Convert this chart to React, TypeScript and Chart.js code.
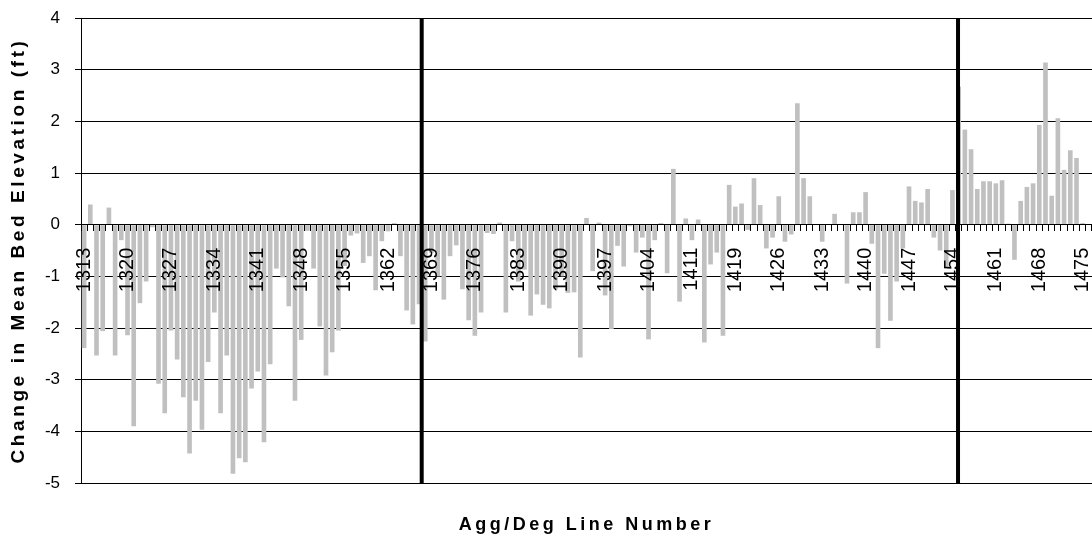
import React, { useEffect, useRef } from 'react';
import { Chart, registerables } from 'chart.js';

Chart.register(...registerables);

const FONT = "'Liberation Sans', Arial, Helvetica, sans-serif";

// Category axis: Agg/Deg line numbers (one number between 1411 and 1419 is absent)
const lineNumbers: string[] = [
  '1313', '1314', '1315', '1316', '1317', '1318', '1319', '1320', '1321', '1322',
  '1323', '1324', '1325', '1326', '1327', '1328', '1329', '1330', '1331', '1332',
  '1333', '1334', '1335', '1336', '1337', '1338', '1339', '1340', '1341', '1342',
  '1343', '1344', '1345', '1346', '1347', '1348', '1349', '1350', '1351', '1352',
  '1353', '1354', '1355', '1356', '1357', '1358', '1359', '1360', '1361', '1362',
  '1363', '1364', '1365', '1366', '1367', '1368', '1369', '1370', '1371', '1372',
  '1373', '1374', '1375', '1376', '1377', '1378', '1379', '1380', '1381', '1382',
  '1383', '1384', '1385', '1386', '1387', '1388', '1389', '1390', '1391', '1392',
  '1393', '1394', '1395', '1396', '1397', '1398', '1399', '1400', '1401', '1402',
  '1403', '1404', '1405', '1406', '1407', '1408', '1409', '1410', '1411', '1412',
  '1413', '1415', '1416', '1417', '1418', '1419', '1420', '1421', '1422', '1423',
  '1424', '1425', '1426', '1427', '1428', '1429', '1430', '1431', '1432', '1433',
  '1434', '1435', '1436', '1437', '1438', '1439', '1440', '1441', '1442', '1443',
  '1444', '1445', '1446', '1447', '1448', '1449', '1450', '1451', '1452', '1453',
  '1454', '1455', '1456', '1457', '1458', '1459', '1460', '1461', '1462', '1463',
  '1464', '1465', '1466', '1467', '1468', '1469', '1470', '1471', '1472', '1473',
  '1474', '1475', '1476',
];

// Change in mean bed elevation (ft), one value per line number
const elevationChange: (number | null)[] = [
  -2.39, 0.39, -2.53, -2.06, 0.33, -2.53, -0.3, -2.14, -3.9, -1.52,
  -1.1, -0.05, -3.08, -3.65, -2.05, -2.61, -3.34, -4.43, -3.41, -3.97,
  -2.66, -1.7, -3.65, -2.53, -4.82, -4.52, -4.6, -3.17, -2.84, -4.21,
  -2.7, -0.85, -1.02, -1.58, -3.41, -2.23, -0.12, -0.85, -1.97, -2.92,
  -2.47, -2.05, -0.8, -0.21, -0.17, -0.74, -0.61, -1.27, -0.32, -0.13,
  0.03, -0.61, -1.66, -1.93, -1.54, -2.26, -0.55, -1.0, -1.45, -0.61,
  -0.4, -1.25, -1.85, -2.15, -1.7, -0.16, -0.18, 0.04, -1.7, -0.32,
  -1.1, -0.87, -1.76, -1.35, -1.55, -1.62, -1.25, -1.0, -1.32, -1.31,
  -2.57, 0.13, -0.9, 0.04, -1.37, -2.02, -0.41, -0.81, -0.03, -0.54,
  -0.25, -2.22, -0.3, 0.03, -0.94, 1.08, -1.49, 0.12, -0.3, 0.1,
  -2.28, -0.77, -0.54, -2.15, 0.77, 0.35, 0.41, -0.1, 0.9, 0.38,
  -0.46, -0.25, 0.55, -0.33, -0.19, 2.35, 0.9, 0.55, 0, -0.33,
  0, 0.21, 0, -1.14, 0.24, 0.24, 0.63, -0.37, -2.39, -0.95,
  -1.86, -1.1, -0.46, 0.74, 0.46, 0.43, 0.69, -0.25, -0.5, -0.82,
  0.67, 2.67, 1.84, 1.46, 0.69, 0.84, 0.84, 0.8, 0.86, 0.02,
  -0.68, 0.46, 0.73, 0.8, 1.93, 3.14, 0.56, 2.06, 1.06, 1.44,
  1.29, 0.03, null,
];

// Value axis
const yMin = -5;
const yMax = 4;
const yStep = 1;

// Every 7th line number is labelled
const labelEvery = 7;
const lastLabelled = '1475';

// Vertical reach dividers, expressed in category-axis units
const dividerPositions: number[] = [54.43, 140.9];

const xTitle = 'Agg/Deg Line Number';
const yTitle = 'Change in Mean Bed Elevation (ft)';

const dividerPlugin = {
  id: 'reachDividers',
  afterDatasetsDraw(chart: any) {
    const { ctx, scales } = chart;
    const xs = scales.x;
    const ys = scales.y;
    ctx.save();
    ctx.strokeStyle = '#000000';
    ctx.lineWidth = 4;
    dividerPositions.forEach((pos) => {
      const x = xs.getPixelForValue(pos);
      ctx.beginPath();
      ctx.moveTo(x, ys.getPixelForValue(yMax));
      ctx.lineTo(x, ys.getPixelForValue(yMin));
      ctx.stroke();
    });
    ctx.restore();
  },
};

const axisTitlePlugin = {
  id: 'spacedAxisTitles',
  afterDraw(chart: any) {
    const { ctx, chartArea } = chart;
    ctx.save();
    ctx.fillStyle = '#000000';
    ctx.textAlign = 'center';
    ctx.textBaseline = 'middle';
    ctx.font = `bold 18px ${FONT}`;
    (ctx as any).letterSpacing = '3.5px';
    ctx.fillText(xTitle, (chartArea.left + chartArea.right) / 2, 525);
    ctx.translate(19, (chartArea.top + chartArea.bottom) / 2);
    ctx.rotate(-Math.PI / 2);
    ctx.font = `bold 19px ${FONT}`;
    (ctx as any).letterSpacing = '3.6px';
    ctx.fillText(yTitle, 0, 0);
    ctx.restore();
  },
};

export default function App() {
  const canvasRef = useRef<HTMLCanvasElement | null>(null);

  useEffect(() => {
    const canvas = canvasRef.current;
    if (!canvas) return;
    const lastIdx = lineNumbers.indexOf(lastLabelled);
    const chart = new Chart(canvas, {
      type: 'bar',
      data: {
        labels: lineNumbers,
        datasets: [
          {
            label: 'Change in Mean Bed Elevation',
            data: elevationChange,
            backgroundColor: '#C0C0C0',
            borderWidth: 0,
            barPercentage: 0.75,
            categoryPercentage: 1,
          },
        ],
      },
      options: {
        responsive: false,
        animation: false,
        devicePixelRatio: 1,
        layout: { padding: { left: 0, right: 0, top: 18, bottom: 56 } },
        plugins: {
          legend: { display: false },
          tooltip: { enabled: false },
          title: { display: false },
        },
        scales: {
          x: {
            type: 'category',
            position: { y: 0 } as any,
            offset: true,
            grid: {
              offset: true,
              drawOnChartArea: false,
              drawTicks: true,
              tickLength: 6,
              tickColor: '#000000',
              tickWidth: 1,
              z: 1,
            },
            border: { display: true, color: '#000000', width: 1, z: 1 },
            ticks: {
              autoSkip: false,
              minRotation: 90,
              maxRotation: 90,
              padding: 17,
              color: '#000000',
              z: 1,
              font: { size: 20, family: FONT },
              callback: (_v: any, i: number) =>
                i % labelEvery === 0 && i <= lastIdx ? lineNumbers[i] : '',
            },
            afterFit: (scale: any) => {
              scale.paddingLeft = 0;
              scale.paddingRight = 0;
            },
          },
          y: {
            type: 'linear',
            position: 'left',
            min: yMin,
            max: yMax,
            grid: {
              color: '#000000',
              lineWidth: 1,
              drawTicks: true,
              tickLength: 6,
              tickColor: '#000000',
            },
            border: { display: true, color: '#000000', width: 1 },
            ticks: {
              stepSize: yStep,
              padding: 15,
              color: '#000000',
              font: { size: 17, family: FONT },
            },
            afterFit: (scale: any) => {
              scale.width = 81;
              scale.paddingTop = 0;
              scale.paddingBottom = 0;
            },
          },
        },
      },
      plugins: [dividerPlugin, axisTitlePlugin],
    });
    return () => chart.destroy();
  }, []);

  return (
    <canvas
      ref={canvasRef}
      width={1092}
      height={539}
      style={{ position: 'absolute', left: 0, top: 0, display: 'block', background: '#ffffff' }}
    />
  );
}
